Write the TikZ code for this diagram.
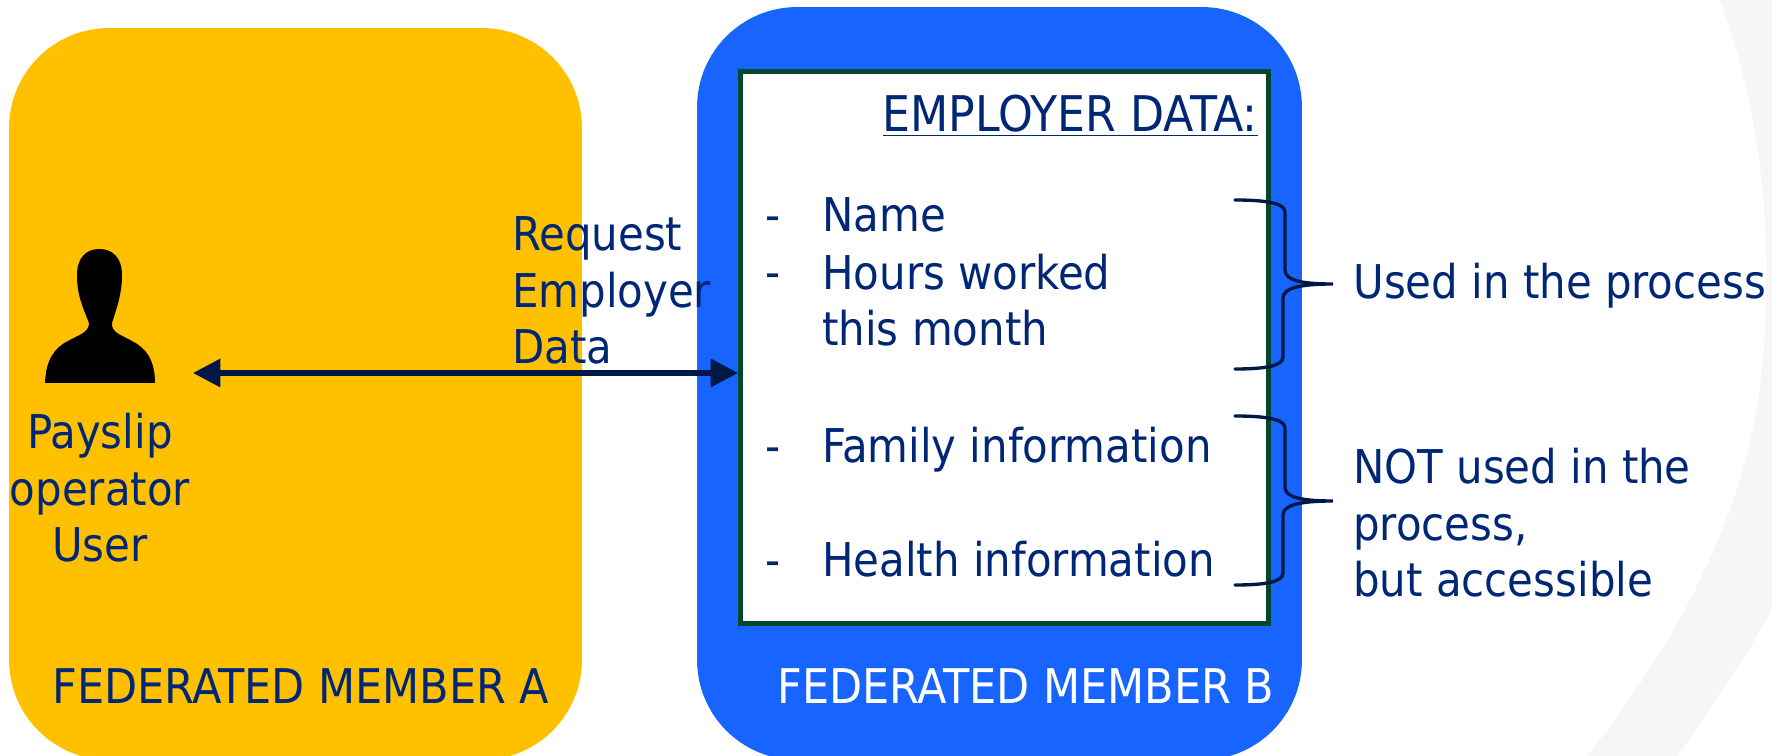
\documentclass[tikz,border=0pt]{standalone}
\usepackage{fontspec}
\setmainfont{DejaVu Sans Condensed}
\usetikzlibrary{arrows.meta,positioning}
\definecolor{memberorange}{HTML}{FFC000}
\definecolor{memberblue}{HTML}{1764FF}
\definecolor{datagreen}{HTML}{00472F}
\definecolor{textnavy}{HTML}{002776}
\definecolor{linknavy}{HTML}{001845}
\definecolor{bandgray}{HTML}{F6F6F6}

\begin{document}
\begin{tikzpicture}[
                    x=0.02cm, y=-0.02cm,
                    panel/.style={rectangle, rounded corners=2cm, inner sep=0pt},
                    label/.style={anchor=base west, inner sep=0pt, text=textnavy, align=left, font=\fontsize{26.5}{32.4}\selectfont},
                    caps/.style={label, font=\fontsize{27.2}{32.4}\selectfont},
                    brace/.style={draw=linknavy, line width=1.9pt, line cap=round},
                    link/.style={{Triangle[length=0.55cm,width=0.55cm]}-{Triangle[length=0.55cm,width=0.55cm]}, draw=linknavy, line width=3pt}
                ]
                    \useasboundingbox (0,0) rectangle (1772,756);
                    \fill[bandgray] (1720,0) .. controls (1765,120) and (1775,260) .. (1760,386) .. controls (1745,510) and (1680,640) .. (1587,756) -- (1677,756) .. controls (1710,710) and (1745,660) .. (1772,609) -- (1772,0) -- cycle;

                    \node[panel, fill=memberorange, minimum width=11.46cm, minimum height=14.64cm] (memberA) at (295.5,394) {};
                    \node[panel, fill=memberblue, minimum width=12.1cm, minimum height=15.06cm] (memberB) at (999.5,383.5) {};
                    \node[rectangle, draw=datagreen, line width=2.8pt, fill=white, minimum width=10.56cm, minimum height=11.05cm, inner sep=0pt] (data) at (1004.5,347.5) {};

                    % operator figure
                    \fill[black] (45,383) .. controls (46,360) and (54,348) .. (68,341) .. controls (78,335) and (89,333) .. (89,323) .. controls (82,305) and (77,295) .. (77,275) .. controls (77,258) and (86,249) .. (99,249) .. controls (113,249) and (122,258) .. (122,275) .. controls (122,295) and (116,310) .. (112,323) .. controls (111,333) and (122,335) .. (132,341) .. controls (146,348) and (155,360) .. (155,383) -- cycle;
                    \coordinate (operator) at (193,373);

                    \draw[link] (operator) -- (data.west |- operator);

                    \node[label, align=center, anchor=base] (user) at (100,562) {Payslip\\operator\\User};
                    \node[label] (request) at (512,364) {Request\\Employer\\Data};
                    \node[caps] (memberAname) at (52,704) {FEDERATED MEMBER A};
                    \node[caps, text=white] (memberBname) at (777,704) {FEDERATED MEMBER B};
                    \node[caps, anchor=base east, font=\fontsize{28}{32.4}\selectfont] (title) at (1258,132) {\underline{EMPLOYER DATA:}};

                    \node[label] (dashA) at (765,232) {-};
                    \node[label] (itemA) at (822,232) {Name};
                    \node[label] (dashB) at (765,289) {-};
                    \node[label] (itemB) at (822,346) {Hours worked\\this month};
                    \node[label] (dashC) at (765,463) {-};
                    \node[label] (itemC) at (822,463) {Family information};
                    \node[label] (dashD) at (765,577) {-};
                    \node[label] (itemD) at (822,577) {Health information};

                    \node[label] (used) at (1353,299) {Used in the process};
                    \node[label] (unused) at (1353,597) {NOT used in the\\process,\\but accessible};

                    % the two braces
                    \foreach \tipname/\top/\mid/\bot in {usedtip/200/284/369, unusedtip/416/501/585} {
                        \coordinate (\tipname) at (1333,\mid);
                        \draw[brace] (1235,\top) .. controls (1265,\top) and (1285,\top+3) .. (1285,\top+12)
                            -- (1285,\mid-14) .. controls (1285,\mid-4) and (1300,\mid) .. (\tipname)
                            .. controls (1300,\mid) and (1283,\mid+4) .. (1283,\mid+14)
                            -- (1283,\bot-12) .. controls (1283,\bot-3) and (1265,\bot) .. (1235,\bot);
                    }
                \end{tikzpicture}
\end{document}
